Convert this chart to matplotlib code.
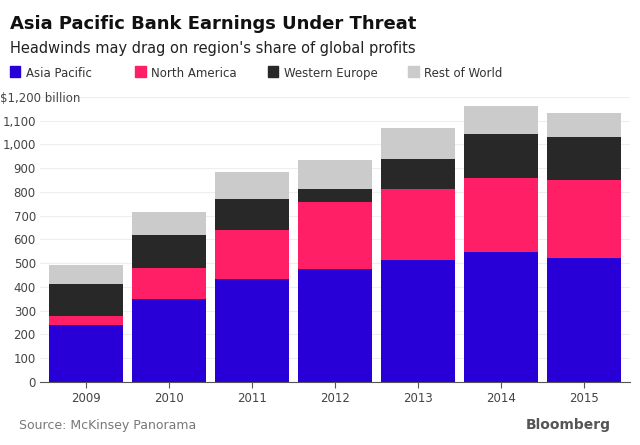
import matplotlib
matplotlib.use("Agg")
import matplotlib.pyplot as plt
import numpy as np

years = ["2009", "2010", "2011", "2012", "2013", "2014", "2015"]
asia_pacific = [238, 351, 434, 475, 513, 545, 520]
north_america = [39, 129, 204, 281, 300, 314, 329]
western_europe = [136, 137, 132, 57, 126, 186, 182]
rest_of_world = [80, 98, 116, 121, 129, 116, 101]
series = [("Asia Pacific", asia_pacific, "#2800d7"),
          ("North America", north_america, "#ff1f66"),
          ("Western Europe", western_europe, "#282828"),
          ("Rest of World", rest_of_world, "#cbcbcb")]

fig = plt.figure(figsize=(6.4, 4.45), dpi=100)
ax = fig.add_axes([0.0625, 0.142, 0.922, 0.64])
x = np.arange(len(years))
bottom = np.zeros(len(years))
for name, vals, col in series:
    ax.bar(x, vals, bottom=bottom, width=0.89, color=col, zorder=3)
    bottom += np.array(vals)

ax.set_xlim(-0.55, 6.55)
ax.set_ylim(0, 1200)
ticks = list(range(0, 1201, 100))
ax.set_yticks(ticks)
ax.set_yticklabels([f"{t:,}" if t < 1200 else "$1,200 billion" for t in ticks], fontsize=8.5, color="#444444")
for lbl in ax.get_yticklabels():
    lbl.set_horizontalalignment("right")
ax.yaxis.grid(True, color="#eeeeee", lw=0.8, zorder=0)
ax.tick_params(axis="y", length=0, pad=3)
ax.set_xticks(x)
ax.set_xticklabels(years, fontsize=8.5, color="#444444")
ax.tick_params(axis="x", length=4, color="#555555")
for s in ["top", "right", "left"]:
    ax.spines[s].set_visible(False)
ax.spines["bottom"].set_color("#555555")
# move top label
lbls = ax.get_yticklabels()
lbls[-1].set_horizontalalignment("left")
lbls[-1].set_x(-0.06)

fig.text(0.016, 0.935, "Asia Pacific Bank Earnings Under Threat", fontsize=13, fontweight="bold", color="#111111")
fig.text(0.016, 0.88, "Headwinds may drag on region's share of global profits", fontsize=10.5, color="#222222")
lx = 0.016
for name, vals, col in series:
    fig.patches.append(plt.Rectangle((lx, 0.828), 0.016, 0.024, transform=fig.transFigure, color=col))
    fig.text(lx + 0.024, 0.828, name, fontsize=8.5, color="#333333")
    lx += 0.024 + len(name) * 0.0118 + 0.03
fig.text(0.03, 0.035, "Source: McKinsey Panorama", fontsize=9, color="#777777")
fig.text(0.955, 0.035, "Bloomberg", fontsize=10, fontweight="bold", color="#555555", ha="right")
fig.savefig("out.png", dpi=100, facecolor="white")
